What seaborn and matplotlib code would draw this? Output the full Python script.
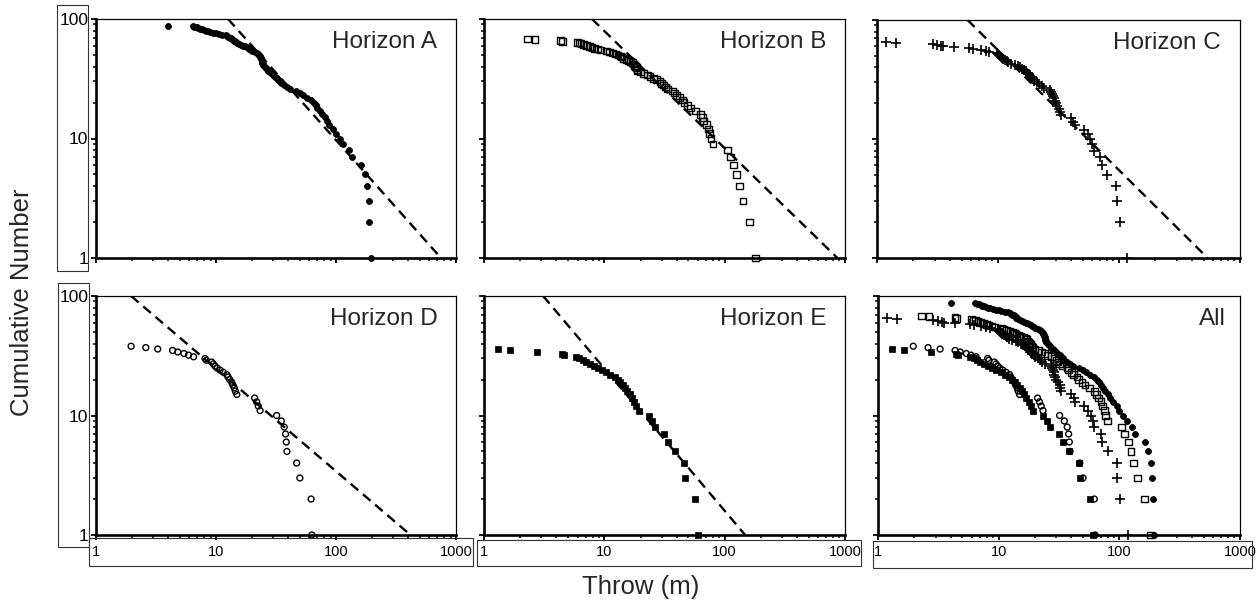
import numpy as np
import pandas as pd
import matplotlib
matplotlib.use("Agg")
import matplotlib.pyplot as plt
from matplotlib.patches import Rectangle
from matplotlib.ticker import LogLocator, NullFormatter, FixedLocator, FixedFormatter
import seaborn as sns

# ---------------- data (fault throws in m) ----------------
throw_A = [194, 190, 187, 183, 174, 163, 135, 128, 115, 108, 100, 95, 88, 84, 81, 76, 73,
           70, 68, 65, 62, 57, 53, 50, 46, 41, 38.8, 37, 35, 34, 33, 32, 31, 30, 29, 28,
           27, 26.5, 26, 25.5, 24.8, 24.6, 24.4, 24.2, 24, 23.8, 23.6, 23.4, 23.2, 23,
           22.5, 22, 21, 20, 19.5, 19, 18.5, 18, 17.3, 16.8, 16.2, 15.6, 15, 14.6, 14.3,
           14, 13.8, 13.6, 13.3, 13, 12.6, 12.3, 12, 11.2, 10.5, 10, 9.5, 8.9, 8.5, 8.2,
           7.9, 7.6, 7.3, 7.1, 6.9, 6.6, 6.4, 4.0]
throw_B = [181, 162, 142, 132, 125, 119, 111, 105, 80, 77, 75, 73, 70.5, 67, 65, 62.5, 57,
           52, 49, 46, 44.5, 42, 40, 38, 37, 33.5, 32, 31, 30, 29, 27.3, 25.5, 24, 22.7,
           21.3, 19.9, 19, 18.8, 18.5, 18.2, 17.8, 17.5, 17.1, 16.6, 16, 15.2, 14.5, 13.9,
           13.6, 13, 12.4, 11.7, 11, 10.5, 9.3, 8.8, 8.25, 7.9, 7.5, 7.1, 6.75, 6.4, 6.2,
           6.0, 4.5, 4.35, 2.65, 2.3]
throw_C = [117, 101, 96, 95, 80, 72, 70, 62, 60, 58, 55, 51, 43, 42, 40, 33, 32.5, 32, 31,
           30, 29.5, 29, 28.5, 28, 27.5, 27, 24, 23, 22, 21, 20, 19.5, 19, 18.5, 18, 17.5,
           17, 16.4, 15.8, 15.2, 14.5, 13.8, 12.8, 12.2, 11.8, 11.4, 11, 10.7, 10.5, 10.3,
           10.1, 10, 9.8, 8.5, 7.9, 7.2, 6.2, 5.8, 4.35, 3.5, 3.4, 3.16, 2.88, 1.43, 1.19]
throw_D = [63, 62, 50, 47, 39, 38.5, 38, 37, 35, 32, 23.3, 22.5, 21.8, 21, 14.9, 14.5, 14.2,
           13.8, 13.5, 13, 12.6, 12.3, 11.5, 10.8, 10.2, 9.8, 9.5, 9.2, 8.3, 8.1, 6.5, 5.9,
           5.4, 4.8, 4.35, 3.27, 2.6, 1.96]
throw_E = [60, 57, 47, 46, 38.5, 34, 31.5, 26.5, 25, 23.5, 19.3, 18.5, 17.8, 17, 16.3, 15.5,
           14.9, 14.3, 13.6, 13, 12.2, 11.2, 10.4, 9.5, 8.8, 8.2, 7.6, 7.0, 6.6, 6.2, 5.8,
           4.6, 4.47, 2.77, 1.65, 1.31]

horizons = ["A", "B", "C", "D", "E"]
panel_titles = ["Horizon A", "Horizon B", "Horizon C", "Horizon D", "Horizon E", "All"]
# power-law fit lines: throw at N=100 and at N=1
fit_x_top = [12.6, 7.9, 5.6, 1.96, 3.1]
fit_x_bottom = [750, 865, 540, 418, 148]
fit_N = [100, 1]

x_ticks = [1, 10, 100, 1000]
x_tick_labels = ["1", "10", "100", "1000"]
y_ticks = [1, 10, 100]
y_tick_labels = ["1", "10", "100"]

# ---------------- build table ----------------
frames = []
for h, t in zip(horizons, [throw_A, throw_B, throw_C, throw_D, throw_E]):
    frames.append(pd.DataFrame({"horizon": h, "throw": t}))
df = pd.concat(frames, ignore_index=True)
df["N"] = df.groupby("horizon")["throw"].rank(ascending=False, method="first")

marker_style = {
    "A": dict(marker="o", s=18, filled=True, lw=0.6),
    "B": dict(marker="s", s=24, filled=False, lw=1.0),
    "C": dict(marker="+", s=52, filled=True, lw=1.2),
    "D": dict(marker="o", s=18, filled=False, lw=1.0),
    "E": dict(marker="s", s=22, filled=True, lw=0.5),
}

# ---------------- figure ----------------
sns.set_style("white")
plt.rcParams["font.family"] = ["Liberation Sans", "DejaVu Sans"]
W, H = 1256, 602
fig = plt.figure(figsize=(W / 100, H / 100), dpi=100)


def fr(x0, y0, x1, y1):
    return [x0 / W, 1 - y1 / H, (x1 - x0) / W, (y1 - y0) / H]


boxes = [
    (96, 19, 456, 258), (484, 19, 845, 258), (877, 20, 1240, 258),
    (96, 296, 456, 535), (484, 296, 845, 535), (878, 296, 1240, 535),
]


def scatter(ax, h):
    sub = df[df["horizon"] == h]
    st = marker_style[h]
    sns.scatterplot(data=sub, x="throw", y="N", ax=ax, marker=st["marker"], s=st["s"],
                    color="black", edgecolor="black", linewidth=st["lw"], clip_on=False,
                    zorder=3, legend=False)
    coll = ax.collections[-1]
    if not st["filled"]:
        coll.set_facecolor("none")
        coll.set_edgecolor("black")


for i, b in enumerate(boxes):
    ax = fig.add_axes(fr(*b))
    ax.set_xscale("log")
    ax.set_yscale("log")
    if i < 5:
        h = horizons[i]
        line = pd.DataFrame({"throw": [fit_x_top[i], fit_x_bottom[i]], "N": fit_N})
        sns.lineplot(data=line, x="throw", y="N", ax=ax, color="black", lw=1.7,
                     dashes=False, zorder=2)
        ax.lines[-1].set_dashes((4.2, 2.6))
        scatter(ax, h)
        tx = 0.948
    else:
        for h in horizons:
            scatter(ax, h)
        tx = 0.962
    ax.set_xlim(1, 1000)
    ax.set_ylim(1, 100)
    ax.set_xlabel("")
    ax.set_ylabel("")
    ax.text(tx, 0.905, panel_titles[i], transform=ax.transAxes, ha="right", va="center",
            fontsize=17.5)

    ax.xaxis.set_major_locator(FixedLocator(x_ticks))
    ax.yaxis.set_major_locator(FixedLocator(y_ticks))
    ax.xaxis.set_minor_locator(LogLocator(base=10, subs=np.arange(2, 10)))
    ax.yaxis.set_minor_locator(LogLocator(base=10, subs=np.arange(2, 10)))
    ax.xaxis.set_minor_formatter(NullFormatter())
    ax.yaxis.set_minor_formatter(NullFormatter())
    ax.xaxis.set_major_formatter(FixedFormatter(x_tick_labels))
    ax.yaxis.set_major_formatter(FixedFormatter(y_tick_labels))
    ax.tick_params(axis="both", which="major", direction="out", length=3.5, width=1.3,
                   color="black", labelcolor="black")
    ax.tick_params(axis="both", which="minor", direction="out", length=2.5, width=1.1,
                   color="black")
    ax.tick_params(axis="x", which="major", pad=4, labelsize=10.5)
    ax.tick_params(axis="y", which="major", pad=2, labelsize=12.5)
    ax.tick_params(bottom=True, left=True, which="both")
    if i < 3:
        ax.tick_params(axis="x", labelbottom=False)
    if i % 3 != 0:
        ax.tick_params(axis="y", labelleft=False)
    for side in ["left", "bottom"]:
        ax.spines[side].set_linewidth(1.9)
        ax.spines[side].set_color("black")
    for side in ["top", "right"]:
        ax.spines[side].set_linewidth(0.9)
        ax.spines[side].set_color("black")

# label boxes (as in the original composite figure)
label_boxes = [
    (57, 5, 88, 271), (58, 283, 89, 547),
    (89, 538, 473, 566), (477, 540, 861, 566), (873, 541, 1252, 568),
]
for (x0, y0, x1, y1) in label_boxes:
    fig.add_artist(Rectangle((x0 / W, 1 - y1 / H), (x1 - x0) / W, (y1 - y0) / H,
                             transform=fig.transFigure, fill=False, lw=0.8,
                             edgecolor="#333333"))

fig.text(641 / W, 1 - 587 / H, "Throw (m)", ha="center", va="center", fontsize=18.5)
fig.text(22 / W, 1 - 302 / H, "Cumulative Number", ha="center", va="center",
         rotation=90, fontsize=18.5)

fig.savefig("out.png", dpi=100, facecolor="white")
